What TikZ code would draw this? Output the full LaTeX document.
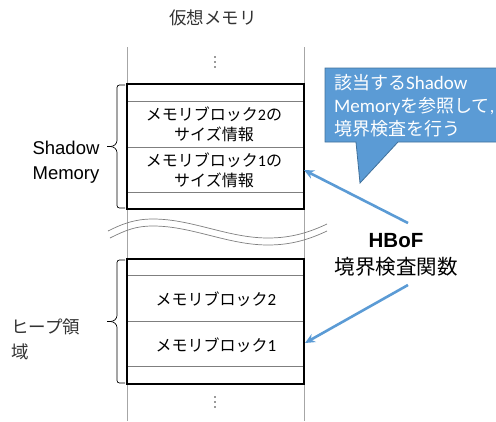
\documentclass[tikz,border=0pt]{standalone}
\usepackage{fontspec}
\setmainfont{Liberation Sans}
\newfontfamily\jpfont{Noto Sans CJK JP}
\newfontfamily\calfont{Carlito}
\usetikzlibrary{arrows.meta}
\definecolor{callblue}{HTML}{5B9BD5}
\definecolor{callborder}{HTML}{41719C}
\definecolor{guide}{HTML}{A6A6A6}
\definecolor{rowline}{HTML}{7F7F7F}
\tikzset{
  guideline/.style={draw=guide, line width=0.8pt},
  memframe/.style={draw=black, line width=2.6pt},
  rowsep/.style={draw=rowline, line width=0.8pt},
  bracepath/.style={draw=black, line width=0.7pt, rounded corners=2.5pt},
  wavy/.style={draw=rowline, line width=0.7pt},
  dotmark/.style={fill=black!80, draw=none},
  celltext/.style={font=\jpfont\fontsize{16}{20}\selectfont, align=center, inner sep=0pt},
  sidelabel/.style={font=\fontsize{18.5}{25}\selectfont, align=center, inner sep=0pt},
  graytext/.style={font=\jpfont\fontsize{17.5}{25}\selectfont, text=black!80, inner sep=0pt},
  hbarrow/.style={draw=callblue, line width=2.6pt, -{Stealth[length=10pt,width=9pt]}},
  callout/.style={fill=callblue, draw=callborder, line width=0.8pt},
  calltext/.style={font=\jpfont\fontsize{18}{23}\selectfont, text=white, align=left, inner sep=0pt},
  hboftext/.style={font=\fontsize{20.5}{27}\selectfont, align=center, inner sep=0pt},
}
\begin{document}
\begin{tikzpicture}[x=1pt,y=-1pt]
\useasboundingbox (0,0) rectangle (496,421);
\clip (0,0) rectangle (496,421);

% title
\node[graytext] (title) at (213,18) {仮想メモリ};

% vertical guide lines
\draw[guideline] (127,47) -- (127,421);
\draw[guideline] (304,47) -- (304,421);

% dots
\foreach \yy in {57,62,67,397,402,407} \fill[dotmark] (215,\yy) circle (0.9);

% shadow memory box
\draw[rowsep] (127,101) -- (304,101);
\draw[rowsep] (127,147) -- (304,147);
\draw[rowsep] (127,192) -- (304,192);
\draw[memframe] (127,84) rectangle (304,209);
\node[celltext] (sm2) at (214,124) {メモリブロック{\calfont 2}の\\サイズ情報};
\node[celltext] (sm1) at (214,170) {メモリブロック{\calfont 1}の\\サイズ情報};

% heap box
\draw[rowsep] (127,275) -- (304,275);
\draw[rowsep] (127,321) -- (304,321);
\draw[rowsep] (127,366) -- (304,366);
\draw[memframe] (127,259) rectangle (304,384);
\node[celltext] (hb2) at (216,299) {メモリブロック{\calfont\fontsize{17}{20}\selectfont 2}};
\node[celltext] (hb1) at (216,345) {メモリブロック{\calfont\fontsize{17}{20}\selectfont 1}};

% braces
\draw[bracepath] (125,85) -- (117,85) -- (117,143) -- (113,146.5) -- (107,146.5);
\draw[bracepath] (107,146.5) -- (113,146.5) -- (117,150) -- (117,208) -- (125,208);
\draw[bracepath] (125,260) -- (117,260) -- (117,318) -- (113,321.5) -- (107,321.5);
\draw[bracepath] (107,321.5) -- (113,321.5) -- (117,325) -- (117,383) -- (125,383);

% side labels
\node[sidelabel] (shadowlbl) at (66,162) {Shadow\\Memory};
\node[graytext, anchor=west] (heaplbl1) at (11,327) {ヒープ領};
\node[graytext, anchor=west] (heaplbl2) at (11,352) {域};

% break marks
\draw[wavy] (108,231) .. controls (124,223) and (136,219) .. (153,219)
  .. controls (192,219) and (228,238) .. (268,238)
  .. controls (292,238) and (310,232) .. (327,224);
\draw[wavy] (110,238) .. controls (126,230) and (136,226) .. (153,226)
  .. controls (192,226) and (228,245) .. (268,245)
  .. controls (292,245) and (310,239) .. (327,231);

% callout
\draw[callout] (325,68) -- (500,68) -- (500,142) -- (398,142) -- (360,183) -- (356,142) -- (325,142) -- cycle;
\node[calltext, anchor=north west] (calltxt) at (334,74)
  {該当する{\calfont\fontsize{19}{23}\selectfont Shadow}\\{\calfont\fontsize{19}{23}\selectfont Memory}を参照して{\calfont ,}\\境界検査を行う};

% HBoF label
\node[hboftext] (hbof) at (396,255)
  {{\bfseries HBoF}\\{\jpfont 境界検査関数}};

% arrows
\coordinate (a1s) at (408,223);
\coordinate (a1e) at (304,170);
\coordinate (a2s) at (408,285);
\coordinate (a2e) at (305,343);
\draw[hbarrow] (a1s) -- (a1e);
\draw[hbarrow] (a2s) -- (a2e);
\end{tikzpicture}
\end{document}
